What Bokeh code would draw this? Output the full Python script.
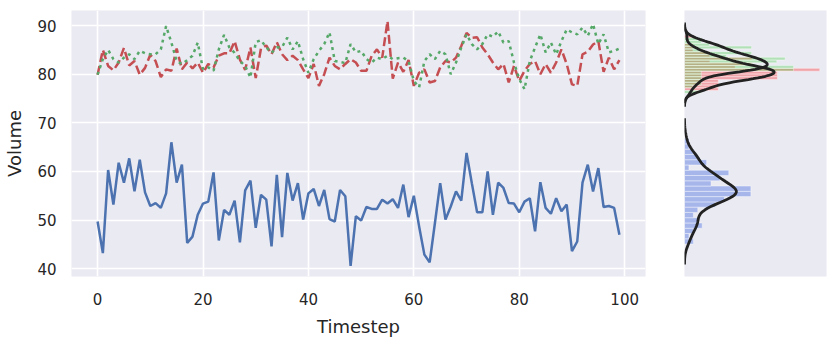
import numpy as np
from bokeh.plotting import figure
from bokeh.models import Range1d, ColumnDataSource, FixedTicker
from bokeh.layouts import row
from bokeh.embed import file_html
from bokeh.resources import INLINE

timestep = list(range(100))
blue = [49.7, 43.2, 60.3, 53.2, 61.8, 57.7, 62.7, 55.9, 62.4, 55.7,
        52.9, 53.5, 52.5, 55.5, 66.0, 57.7, 61.4, 45.3, 46.6, 51.1,
        53.4, 53.8, 59.8, 45.8, 52.1, 51.1, 54.0, 45.4, 56.1, 58.1,
        48.4, 55.2, 54.2, 44.6, 59.3, 46.5, 59.7, 54.0, 57.6, 50.1,
        55.5, 56.4, 52.9, 56.2, 50.2, 49.7, 56.2, 54.9, 40.6, 50.8,
        49.9, 52.7, 52.3, 52.3, 54.2, 53.4, 54.3, 52.5, 57.3, 50.6,
        55.0, 48.7, 42.9, 41.3, 49.4, 57.6, 50.1, 52.8, 55.9, 54.0,
        63.8, 57.6, 51.6, 51.6, 60.0, 51.1, 57.7, 56.6, 53.5, 53.4,
        51.6, 53.8, 54.5, 47.7, 57.8, 52.5, 51.3, 54.5, 51.8, 53.2,
        43.6, 45.6, 57.7, 61.4, 55.9, 60.7, 52.7, 52.9, 52.5, 47.0]
red = [79.9, 85.0, 81.7, 80.8, 82.4, 85.4, 81.8, 82.7, 79.9, 81.3,
       84.0, 82.7, 79.4, 81.0, 80.7, 85.3, 81.0, 82.4, 81.2, 82.4,
       80.3, 82.1, 81.4, 83.8, 84.3, 84.3, 86.8, 83.0, 80.9, 85.5,
       79.2, 85.3, 85.9, 84.1, 86.6, 84.1, 82.9, 83.8, 82.9, 81.0,
       79.2, 82.1, 77.6, 80.0, 83.4, 81.7, 81.0, 82.1, 83.1, 82.4,
       80.7, 80.7, 83.8, 85.1, 83.4, 90.9, 79.1, 82.4, 80.5, 82.9,
       77.6, 80.3, 81.0, 78.3, 78.6, 81.4, 82.7, 82.4, 83.4, 85.8,
       88.5, 87.5, 87.6, 85.5, 84.1, 82.4, 81.0, 82.1, 78.3, 81.7,
       78.6, 80.7, 82.1, 82.7, 80.0, 82.1, 80.3, 82.4, 85.1, 82.1,
       77.9, 77.6, 84.1, 84.6, 86.1, 86.8, 80.5, 83.4, 81.0, 82.9]
green = [79.9, 83.1, 85.0, 83.1, 82.4, 83.4, 84.1, 83.1, 84.8, 84.3,
         84.1, 84.1, 85.1, 89.9, 86.5, 82.7, 82.1, 82.9, 83.8, 86.5,
         81.0, 81.4, 80.7, 85.1, 88.1, 85.5, 84.4, 82.7, 81.7, 79.3,
         86.6, 87.0, 85.5, 84.4, 85.5, 85.6, 87.5, 85.1, 86.8, 83.1,
         80.3, 83.1, 84.8, 86.2, 88.6, 82.7, 82.5, 82.3, 86.2, 84.5,
         84.8, 83.1, 82.4, 83.4, 83.1, 83.8, 83.1, 83.3, 83.4, 82.7,
         78.6, 77.3, 82.7, 84.1, 83.1, 84.8, 84.1, 80.0, 82.4, 85.5,
         88.2, 86.2, 85.1, 86.2, 88.2, 87.7, 88.8, 86.5, 86.8, 82.4,
         79.0, 76.9, 82.7, 85.5, 88.2, 84.5, 86.5, 84.1, 86.8, 89.2,
         88.6, 88.2, 89.6, 87.9, 90.3, 86.2, 88.2, 84.5, 84.8, 85.3]
x_ticks = [0, 20, 40, 60, 80, 100]
y_ticks = [40, 50, 60, 70, 80, 90]
x_label = "Timestep"
y_label = "Volume"
n_bins = 20

BG = "#eaeaf2"
TXT = "#262626"
FONT = "DejaVu Sans"

line_colors = ["#4c72b0", "#c44e52", "#55a868"]
hist_colors = ["royalblue", "red", "limegreen"]
hist_alphas = [0.4, 0.3, 0.3]
series = [blue, red, green]

X0, X1 = -4.95, 103.95
Y0, Y1 = 38.4, 93.1

p = figure(width=660, height=343, x_range=Range1d(X0, X1), y_range=Range1d(Y0, Y1),
           output_backend="svg", toolbar_location=None,
           min_border_left=71, min_border_right=15, min_border_top=10, min_border_bottom=67)
p.background_fill_color = BG
p.border_fill_color = "white"
p.outline_line_color = None
for ax in (p.xaxis[0], p.yaxis[0]):
    ax.axis_line_color = None
    ax.major_tick_line_color = None
    ax.minor_tick_line_color = None
    ax.major_tick_out = 0
    ax.major_tick_in = 0
    ax.minor_tick_out = 0
    ax.minor_tick_in = 0
    ax.major_label_text_font = FONT
    ax.major_label_text_font_size = "15px"
    ax.major_label_text_color = TXT
    ax.axis_label_text_font = FONT
    ax.axis_label_text_font_size = "18px"
    ax.axis_label_text_font_style = "normal"
    ax.axis_label_text_color = TXT
p.xaxis.ticker = FixedTicker(ticks=x_ticks)
p.yaxis.ticker = FixedTicker(ticks=y_ticks)
p.xaxis.axis_label = x_label
p.yaxis.axis_label = y_label
p.xaxis.major_label_standoff = 16
p.yaxis.major_label_standoff = 15
p.xaxis.axis_label_standoff = 8
p.yaxis.axis_label_standoff = 9
p.xgrid.ticker = FixedTicker(ticks=x_ticks)
p.ygrid.ticker = FixedTicker(ticks=y_ticks)
for g in (p.xgrid[0], p.ygrid[0]):
    g.grid_line_color = "white"
    g.grid_line_width = 1.6

p.line(timestep, blue, line_color=line_colors[0], line_width=2.5)
p.line(timestep, red, line_color=line_colors[1], line_width=2.5, line_dash="9 4")
p.line(timestep, green, line_color=line_colors[2], line_width=2.5, line_dash="3 4")


def kde(vals):
    x = np.asarray(vals, dtype=float)
    n = len(x)
    sd = x.std(ddof=1)
    q75, q25 = np.percentile(x, [75, 25])
    a = min(sd, (q75 - q25) / 1.349)
    bw = 1.059 * a * n ** (-0.2)
    grid = np.linspace(x.min() - 3 * bw, x.max() + 3 * bw, 100)
    dens = np.exp(-0.5 * ((grid[:, None] - x[None, :]) / bw) ** 2).sum(1) / (n * bw * np.sqrt(2 * np.pi))
    return grid, dens


hists = []
kdes = []
xmax = 0
ylo, yhi = np.inf, -np.inf
for s in series:
    d, edges = np.histogram(s, bins=n_bins, density=True)
    hists.append((d, edges))
    g, k = kde(s)
    kdes.append((g, k))
    xmax = max(xmax, d.max(), k.max())
    ylo, yhi = min(ylo, g.min()), max(yhi, g.max())
pad = 0.05 * (yhi - ylo)

p2 = figure(width=171, height=343, x_range=Range1d(0, xmax * 1.05),
            y_range=Range1d(ylo - pad, yhi + pad),
            output_backend="svg", toolbar_location=None,
            min_border_left=24, min_border_right=5, min_border_top=10, min_border_bottom=67)
p2.background_fill_color = BG
p2.border_fill_color = "white"
p2.outline_line_color = None
p2.xaxis.visible = False
p2.yaxis.visible = False
p2.xgrid.visible = False
p2.ygrid.visible = False

for (d, edges), c, a in zip(hists, hist_colors, hist_alphas):
    src = ColumnDataSource(dict(y=(edges[:-1] + edges[1:]) / 2, h=np.diff(edges), r=d))
    p2.hbar(y="y", height="h", left=0, right="r", source=src, fill_color=c, fill_alpha=a,
            line_color="white", line_alpha=0.5, line_width=0.8)
for g, k in kdes:
    p2.line(k, g, line_color="#222222", line_width=2.8)

layout = row(p, p2)
open("out.html", "w").write(file_html(layout, INLINE))
